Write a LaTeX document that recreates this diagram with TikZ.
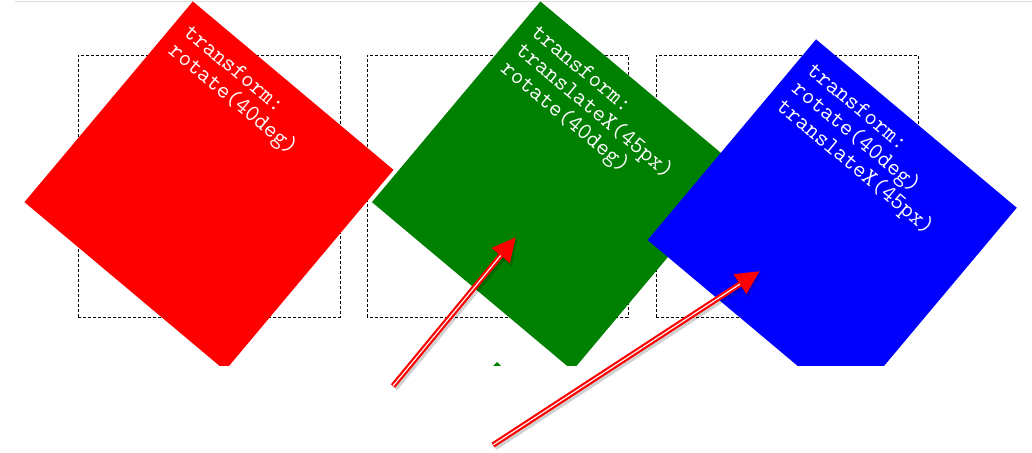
\documentclass[tikz,border=0pt]{standalone}
\usepackage{fontspec}
\usetikzlibrary{arrows.meta}
\definecolor{cssred}{RGB}{255,0,0}
\definecolor{cssgreen}{RGB}{0,128,0}
\definecolor{cssblue}{RGB}{0,0,255}
\definecolor{topline}{RGB}{221,221,221}
\newcommand{\monotext}{\ttfamily\fontsize{24}{23.6}\selectfont\lineskiplimit=-30pt\relax}
\begin{document}
\begin{tikzpicture}[x=1pt,y=1pt,
  guide/.style={draw=black, line width=0.9pt, dash pattern=on 3pt off 2pt},
  txt/.style={anchor=north west, inner sep=0pt, text=white, align=left,
    font=\monotext, transform shape},
  shaft/.style={draw=cssred, line width=5.5pt, -{Triangle[length=24pt,width=22pt]}},
  shaftshadow/.style={draw=black, opacity=0.18, line width=7pt, -{Triangle[length=25pt,width=24pt]}},
  centerline/.style={draw=white, line width=1.1pt, shorten >=24pt, shorten <=0.5pt}]
\useasboundingbox (0,0) rectangle (1032,452);
\fill[white] (0,0) rectangle (1032,452);
\draw[topline, line width=1.5pt] (15,450.5) -- (1032,450.5);
% dashed frames
\draw[guide] (78,135) rectangle (340,397);
\draw[guide] (367,135) rectangle (628,397);
\draw[guide] (656,135) rectangle (918,397);
\begin{scope}
\clip (0,86) rectangle (1032,452);
% red
\begin{scope}[shift={(209,266)}, rotate=-40]
  \fill[cssred] (-131,-131) rectangle (131,131);
  \node[txt] (rt) at (-118,116) {\strut transform:\\rotate(40deg)};
\end{scope}
% green
\begin{scope}[shift={(556.5,266)}, rotate=-40]
  \fill[cssgreen] (-131,-131) rectangle (131,131);
  \node[txt] (gt) at (-118,116) {\strut transform:\\translateX(45px)\\rotate(40deg)};
\end{scope}
% blue
\begin{scope}[shift={(832.2,228.1)}, rotate=-40]
  \fill[cssblue] (-131,-131) rectangle (131,131);
  \node[txt] (bt) at (-118,116) {\strut transform:\\rotate(40deg)\\translateX(45px)};
\end{scope}
\fill[cssgreen] (493,86) -- (497,90) -- (501,86) -- cycle;
\end{scope}
% arrows
\coordinate (a1s) at (393,66);
\coordinate (a1e) at (516,215);
\coordinate (a2s) at (493,7);
\coordinate (a2e) at (760,181);
\draw[shaftshadow] ([shift={(1.5,-2)}]a1s) -- ([shift={(1.5,-2)}]a1e);
\draw[shaftshadow] ([shift={(1.5,-2)}]a2s) -- ([shift={(1.5,-2)}]a2e);
\draw[shaft] (a1s) -- (a1e);
\draw[centerline] (a1s) -- (a1e);
\draw[shaft] (a2s) -- (a2e);
\draw[centerline] (a2s) -- (a2e);
\end{tikzpicture}
\end{document}
